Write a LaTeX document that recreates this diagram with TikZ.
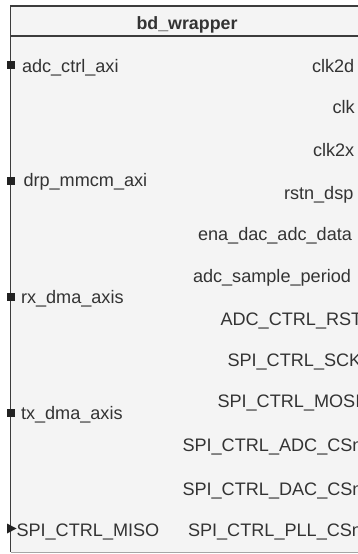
\documentclass[tikz,border=0pt]{standalone}
\usepackage{fontspec}
\setmainfont{Liberation Sans}
\definecolor{blockfill}{HTML}{F4F4F4}
\definecolor{blockline}{HTML}{3C3C3C}
\definecolor{labeltext}{HTML}{333333}
\definecolor{pinmark}{HTML}{222222}
\tikzset{
  portlabel/.style={inner sep=0pt, outer sep=0pt, text=labeltext,
    font=\fontsize{18.1pt}{20pt}\selectfont, anchor=base west},
  titlelabel/.style={inner sep=0pt, text=labeltext,
    font=\fontsize{17.8pt}{20pt}\selectfont\bfseries, anchor=base},
  buspin/.style={fill=pinmark, draw=none},
}
\begin{document}
\begin{tikzpicture}[x=1pt,y=-1pt]
\useasboundingbox (0,0) rectangle (357,554);
% block body and title band
\fill[blockfill] (10.7,6) rectangle (380,552);
\draw[blockline, line width=1.1pt] (380,6) -- (10.7,6) -- (10.7,552);
\draw[blockline, line width=1.1pt] (10.7,36) -- (380,36);
\draw[black!35, line width=0.8pt] (10.7,552) -- (380,552);
\node[titlelabel] (title) at (187,29) {bd\_wrapper};

% interface pins on the left edge
\fill[buspin] (6.5,60.5) rectangle (14.5,68.5);
\fill[buspin] (6.5,176.5) rectangle (14.5,184.5);
\fill[buspin] (6.5,292.5) rectangle (14.5,300.5);
\fill[buspin] (6.5,408.5) rectangle (14.5,416.5);
\fill[buspin] (7,523.5) -- (16.5,528.5) -- (7,533.5) -- cycle;

% left port labels
\node[portlabel] (adcaxi) at (22,72.7) {adc\_ctrl\_axi};
\node[portlabel] (drpaxi) at (23.5,186.7) {drp\_mmcm\_axi};
\node[portlabel] (rxdma) at (21,303.3) {rx\_dma\_axis};
\node[portlabel] (txdma) at (21,419.3) {tx\_dma\_axis};
\node[portlabel] (miso) at (16.5,536.7) {SPI\_CTRL\_MISO};

% right port labels
\node[portlabel] (clktwod) at (312,72.7) {clk2d};
\node[portlabel] (clk) at (332.5,113.3) {clk};
\node[portlabel] (clktwox) at (313,156) {clk2x};
\node[portlabel] (rstn) at (284,199) {rstn\_dsp};
\node[portlabel] (ena) at (198,240) {ena\_dac\_adc\_data};
\node[portlabel] (period) at (193,282.3) {adc\_sample\_period};
\node[portlabel] (adcrst) at (220.5,325) {ADC\_CTRL\_RST};
\node[portlabel] (sck) at (227.5,366.7) {SPI\_CTRL\_SCK};
\node[portlabel] (mosi) at (217.5,407.7) {SPI\_CTRL\_MOSI};
\node[portlabel] (adccs) at (182.5,451.7) {SPI\_CTRL\_ADC\_CSn};
\node[portlabel] (daccs) at (182.5,495) {SPI\_CTRL\_DAC\_CSn};
\node[portlabel] (pllcs) at (188,536.7) {SPI\_CTRL\_PLL\_CSn};
\end{tikzpicture}
\end{document}
